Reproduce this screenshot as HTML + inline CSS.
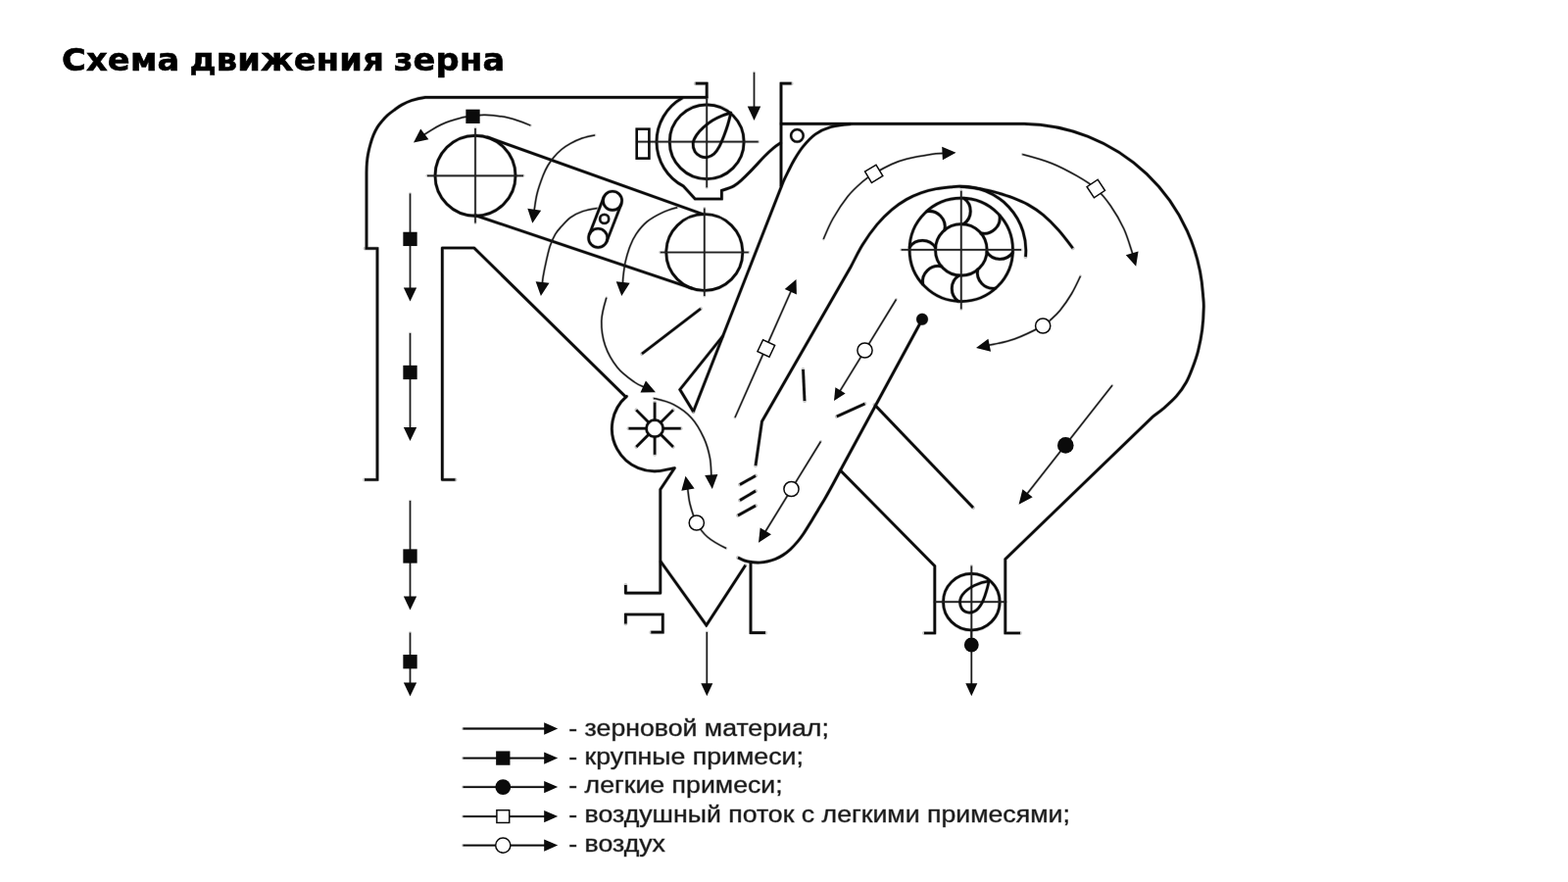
<!DOCTYPE html>
<html lang="ru">
<head>
<meta charset="utf-8">
<title>Схема движения зерна</title>
<style>
html,body{margin:0;padding:0;background:#fff;}
body{width:1600px;height:900px;position:relative;overflow:hidden;font-family:"Liberation Sans",sans-serif;}
h1{position:absolute;left:62.5px;top:41.3px;margin:0;font:700 32.2px/40px "DejaVu Sans","Liberation Sans",sans-serif;letter-spacing:0.2px;word-spacing:-2px;transform:scaleX(1.046);transform-origin:0 0;-webkit-text-stroke:0.6px #000;will-change:transform;color:#000;white-space:nowrap;}
svg{position:absolute;left:0;top:0;will-change:transform;}
svg .h{fill:none;stroke:#000;stroke-opacity:.22;stroke-linecap:round;stroke-linejoin:round;}
svg .d{fill:none;stroke:#0b0b0b;stroke-linecap:butt;stroke-linejoin:miter;}
svg text{font-family:"Liberation Sans",sans-serif;font-size:24.5px;fill:#1a1a1a;stroke:#1a1a1a;stroke-width:0.9px;stroke-opacity:.45;stroke-linejoin:round;}
</style>
</head>
<body>
<h1>Схема движения зерна</h1>
<svg width="1600" height="900" viewBox="0 0 1600 900">
<g class="h">
<path d="M721,99.3 H434 C429.28,99.95 424,101.22 420,102.5 C416,103.78 413,105.33 410,107 C407,108.67 404.5,110.67 402,112.5 C399.5,114.33 397.08,116.08 395,118 C392.92,119.92 391.17,122 389.5,124 C387.83,126 386.42,127.67 385,130 C383.58,132.33 382.17,135.17 381,138 C379.83,140.83 378.9,143.83 378,147 C377.1,150.17 376.2,153.83 375.6,157 C375,160.17 374.67,162.83 374.4,166 C374.13,169.17 374.07,172.67 374,176 V253.5 M372.5,253.5 H385 V489.5 H372" stroke-width="3.9"/>
<path d="M464.5,489.5 H451.3 V253 H483.8 L638.8,405.3 L639.4,404.39 A43.6,43.6 0 0 0 680.02,479.21 L688.4,477.6 L673.8,499.5 V605.2 H638.4 V597" stroke-width="3.9"/>
<path d="M638.4,636.5 V627 H676.3 V645.2 H664.3" stroke-width="3.9"/>
<path d="M674.2,573 L720.8,638 L760.7,576.8" stroke-width="3.9"/>
<path d="M766,573.7 V645.7 H781" stroke-width="3.9"/>
<path d="M709.7,85.2 H721.2 V100" stroke-width="3.9"/>
<path d="M807.6,85.2 H797 V190" stroke-width="3.9"/>
<path d="M797,126.3 H1045 A186,186 0 0 1 1227.5,300 C1227.7,304.44 1228.43,307.18 1228.3,313.3 C1228.17,319.42 1227.67,329.2 1226.7,336.7 C1225.73,344.2 1224.12,351.92 1222.5,358.3 C1220.88,364.68 1219,369.72 1217,375 C1215,380.28 1213.25,385.13 1210.5,390 C1207.75,394.87 1204.42,399.7 1200.5,404.2 C1196.58,408.7 1191.08,413.45 1187,417 C1182.92,420.55 1179.5,422.47 1176,425.5 L1025.8,570.5 V646 H1041" stroke-width="3.9"/>
<path d="M868,126.6 C861.3,127.08 854,127.77 848,129.5 C842,131.23 836.75,133.67 832,137 C827.25,140.33 823.08,145.17 819.5,149.5 C815.92,153.83 813.08,158.67 810.5,163 C807.92,167.33 805.92,171.67 804,175.5 C802.08,179.33 800.55,182.45 799,186 L707.5,420" stroke-width="3.9"/>
<path d="M737.5,343 L693.8,397.5 L707.5,420" stroke-width="3.9"/>
<line x1="655" y1="361" x2="715" y2="315" stroke-width="3.9"/>
<path d="M771,475 L777.5,430 L868,272.5 C872.05,265.03 875.5,257.25 880,250 C884.5,242.75 890,235 895,229 C900,223 905,218.25 910,214 C915,209.75 920,206.37 925,203.5 C930,200.63 935,198.6 940,196.8 C945,195 950,193.7 955,192.7 C960,191.7 965.5,191.2 970,190.8 C974.5,190.4 976.63,189.93 982,190.3 C987.37,190.67 996.23,191.92 1002.2,193 C1008.17,194.08 1012.62,195.33 1017.8,196.8 C1022.98,198.27 1028.12,199.8 1033.3,201.8 C1038.48,203.8 1043.72,205.88 1048.9,208.8 C1054.08,211.72 1059.22,214.98 1064.4,219.3 C1069.58,223.62 1074.95,229.03 1080,234.7 C1085.05,240.37 1089.94,246.99 1094.7,253.3" stroke-width="3.9"/>
<path d="M980,190.5 A65,65 0 0 1 1046.5,262" stroke-width="3.9"/>
<path d="M941,326 L857.5,480 C854.99,484.66 852.5,489.42 850,494 C847.5,498.58 845,503.17 842.5,507.5 C840,511.83 837.5,515.83 835,520 C832.5,524.17 830,528.42 827.5,532.5 C825,536.58 822.25,541.17 820,544.5 C817.75,547.83 816.23,549.85 814,552.5 C811.77,555.15 809.13,558.07 806.6,560.4 C804.07,562.73 801.38,564.82 798.8,566.5 C796.22,568.18 793.68,569.43 791.1,570.5 C788.52,571.57 785.9,572.32 783.3,572.9 C780.7,573.48 778.1,573.87 775.5,574 C772.9,574.13 770.28,574.02 767.7,573.7 C765.12,573.38 762.45,572.88 760,572.1 C757.55,571.32 755.31,570.09 753,569" stroke-width="3.9"/>
<circle cx="941" cy="325.8" r="4.6" stroke-width="3.9"/>
<line x1="892.5" y1="413" x2="993" y2="518" stroke-width="3.9"/>
<path d="M857.5,480 L953.8,577.5 V646 H943" stroke-width="3.9"/>
<line x1="755" y1="494.5" x2="771" y2="485.5" stroke-width="3.9"/>
<line x1="755" y1="510.5" x2="771" y2="501" stroke-width="3.9"/>
<line x1="753" y1="526" x2="771" y2="516" stroke-width="3.9"/>
<line x1="819.5" y1="377" x2="821" y2="409" stroke-width="3.9"/>
<line x1="853.8" y1="425" x2="882.5" y2="412" stroke-width="3.9"/>
<circle cx="485" cy="179.3" r="41" stroke-width="3.9"/>
<circle cx="718.8" cy="257.5" r="39" stroke-width="3.9"/>
<line x1="497" y1="139.8" x2="717" y2="218.5" stroke-width="3.9"/>
<line x1="484" y1="219.4" x2="706.3" y2="294.3" stroke-width="3.9"/>
<line x1="436" y1="179.3" x2="534" y2="179.3" stroke-width="2.9"/>
<line x1="485" y1="131" x2="485" y2="227.5" stroke-width="2.9"/>
<line x1="673.8" y1="257.5" x2="763.8" y2="257.5" stroke-width="2.9"/>
<line x1="718.8" y1="212.5" x2="718.8" y2="302" stroke-width="2.9"/>
<circle cx="625" cy="204.8" r="9.6" stroke-width="3.8"/>
<circle cx="610.2" cy="242.9" r="9.6" stroke-width="3.8"/>
<circle cx="616.7" cy="223.4" r="4.5" stroke-width="3.6"/>
<line x1="616.05" y1="201.32" x2="601.25" y2="239.42" stroke-width="3.8"/>
<line x1="633.95" y1="208.28" x2="619.15" y2="246.38" stroke-width="3.8"/>
<circle cx="721.2" cy="144.7" r="37.9" stroke-width="3.9"/>
<path d="M696.38,99.92 A51.2,51.2 0 0 0 697.48,190.07 L709.2,203 H736.4 V194.4 C740.64,193.08 745.27,191.72 748.9,189.7 C752.53,187.68 754.83,185.37 758.2,182.3 C761.57,179.23 765.47,175.08 769.1,171.3 C772.73,167.52 776.63,162.98 780,159.6 C783.37,156.22 786.55,153.3 789.3,151 C792.05,148.7 794.03,147.43 796.5,145.8" stroke-width="3.9"/>
<line x1="650" y1="144.7" x2="773.7" y2="144.7" stroke-width="2.9"/>
<line x1="721.2" y1="100.3" x2="721.2" y2="191.3" stroke-width="2.9"/>
<path d="M745.8,115.1 C742.65,116.09 739.52,116.9 736.4,118.2 C733.28,119.5 730.2,120.95 727.1,122.9 C724,124.85 720.52,127.43 717.8,129.9 C715.08,132.37 712.57,134.98 710.8,137.7 C709.03,140.42 707.47,143.35 707.2,146.2 C706.93,149.05 707.95,152.6 709.2,154.8 C710.45,157 712.63,158.45 714.7,159.4 C716.77,160.35 719.28,160.88 721.6,160.5 C723.92,160.12 726.52,158.97 728.6,157.1 C730.68,155.23 732.4,152.42 734.1,149.3 C735.8,146.18 737.38,142.03 738.8,138.4 C740.22,134.77 741.43,131.38 742.6,127.5 C743.77,123.62 744.85,119.26 745.8,115.1 Z" stroke-width="3.9"/>
<circle cx="813.4" cy="138.4" r="6.3" stroke-width="3.5"/>
<circle cx="980.8" cy="254.9" r="52.7" stroke-width="3.9"/>
<circle cx="980.8" cy="254.9" r="26.3" stroke-width="3.9"/>
<line x1="919.7" y1="254.9" x2="1042" y2="254.9" stroke-width="2.9"/>
<line x1="980.8" y1="194.8" x2="980.8" y2="315.4" stroke-width="2.9"/>
<path d="M983.56,202.27 A16,16 0 0 1 983.09,228.7" stroke-width="4"/>
<path d="M1019.96,219.64 A16,16 0 0 1 1000.95,237.99" stroke-width="4"/>
<path d="M1033.43,257.66 A16,16 0 0 1 1007,257.19" stroke-width="4"/>
<path d="M1016.06,294.06 A16,16 0 0 1 997.71,275.05" stroke-width="4"/>
<path d="M978.04,307.53 A16,16 0 0 1 978.51,281.1" stroke-width="4"/>
<path d="M941.64,290.16 A16,16 0 0 1 960.65,271.81" stroke-width="4"/>
<path d="M928.17,252.14 A16,16 0 0 1 954.6,252.61" stroke-width="4"/>
<path d="M945.54,215.74 A16,16 0 0 1 963.89,234.75" stroke-width="4"/>
<circle cx="668.1" cy="437.2" r="8.6" stroke-width="3.7"/>
<line x1="676.7" y1="437.2" x2="694.7" y2="437.2" stroke-width="3.8"/>
<line x1="674.18" y1="443.28" x2="686.91" y2="456.01" stroke-width="3.8"/>
<line x1="668.1" y1="445.8" x2="668.1" y2="463.8" stroke-width="3.8"/>
<line x1="662.02" y1="443.28" x2="649.29" y2="456.01" stroke-width="3.8"/>
<line x1="659.5" y1="437.2" x2="641.5" y2="437.2" stroke-width="3.8"/>
<line x1="662.02" y1="431.12" x2="649.29" y2="418.39" stroke-width="3.8"/>
<line x1="668.1" y1="428.6" x2="668.1" y2="410.6" stroke-width="3.8"/>
<line x1="674.18" y1="431.12" x2="686.91" y2="418.39" stroke-width="3.8"/>
<circle cx="991.3" cy="614.2" r="28.8" stroke-width="3.9"/>
<line x1="953.8" y1="614.2" x2="1026.3" y2="614.2" stroke-width="2.9"/>
<line x1="991.3" y1="577.5" x2="991.3" y2="650" stroke-width="2.9"/>
<path d="M1009,593 C1000,594 988,599 982,607 C977,614 980,624 988,625 C997,626 1002,617 1005,608 C1007,602 1008.5,597 1009,593 Z" stroke-width="3.8"/>
<path d="M769.5,73.9 C769.5,86.37 769.5,98.83 769.5,111.3" stroke-width="2.7"/>
<path d="M541.3,128 C534.34,125.16 527.72,122.28 520,120.5 C512.28,118.72 502.5,117.5 495,117.3 C487.5,117.1 480.83,118.3 475,119.3 C469.17,120.3 464.17,121.97 460,123.3 C455.83,124.63 453.33,125.72 450,127.3 C446.67,128.88 443.16,130.91 440,132.8 C436.84,134.69 433.95,136.58 431.04,138.63" stroke-width="2.7"/>
<path d="M418.5,197.5 C418.5,230.43 418.5,263.37 418.5,296.3" stroke-width="2.7"/>
<path d="M418.5,340 C418.5,372.93 418.5,405.87 418.5,438.8" stroke-width="2.7"/>
<path d="M418.5,511 C418.5,544.4 418.5,577.8 418.5,611.2" stroke-width="2.7"/>
<path d="M418.5,645.6 C418.5,663.47 418.5,681.33 418.5,699.2" stroke-width="2.7"/>
<path d="M607,137.9 C602.63,138.72 598.13,139.58 594,141 C589.87,142.42 585.7,144.48 582.2,146.4 C578.7,148.32 575.85,150.17 573,152.5 C570.15,154.83 567.43,157.65 565.1,160.4 C562.77,163.15 560.82,165.88 559,169 C557.18,172.12 556.03,174.3 554.2,179.1 C552.37,183.9 549.56,191.55 548,197.8 C546.44,204.05 545.82,210.33 544.85,216.61" stroke-width="2.7"/>
<path d="M609.4,212.4 C604.42,213.15 599.13,214.03 594.6,215.6 C590.07,217.17 585.82,219.22 582.2,221.8 C578.58,224.38 575.48,228.25 572.9,231.1 C570.32,233.95 568.65,235.53 566.7,238.9 C564.75,242.27 562.77,246.63 561.2,251.3 C559.63,255.97 558.47,261.72 557.3,266.9 C556.13,272.08 554.88,278.42 554.2,282.4 C553.52,286.38 553.56,287.99 553.23,290.78" stroke-width="2.7"/>
<path d="M691.1,211.7 C685.83,213.24 680.68,214.65 675.5,217.1 C670.32,219.55 664.4,222.77 660,226.4 C655.6,230.03 651.95,234.75 649.1,238.9 C646.25,243.05 644.72,246.63 642.9,251.3 C641.08,255.97 639.37,261.72 638.2,266.9 C637.03,272.08 636.36,278.42 635.9,282.4 C635.44,286.38 635.63,287.97 635.41,290.76" stroke-width="2.7"/>
<path d="M618.8,303.8 C616.5,311.51 614.02,319.38 613.8,327.5 C613.58,335.62 614.8,344.58 617.5,352.5 C620.2,360.42 625,368.75 630,375 C635,381.25 642.7,386.57 647.5,390 C652.3,393.43 654.99,393.81 658.79,395.6" stroke-width="2.7"/>
<path d="M666.9,406.4 C673.75,407.97 680.62,409.32 687.1,412.7 C693.58,416.08 700.62,421 705.8,426.7 C710.98,432.4 715.1,440.17 718.2,446.9 C721.3,453.63 723.1,460.35 724.4,467.1 C725.7,473.85 725.49,480.65 725.99,487.43" stroke-width="2.7"/>
<path d="M741,559.5 C734.36,556.29 727.03,552.33 722,548 C716.97,543.67 713.8,539.17 710.8,533.5 C707.8,527.83 705.55,520.11 704,514 C702.45,507.89 702.42,502.53 701.48,496.82" stroke-width="2.7"/>
<path d="M750,426 C769.32,382.41 788.64,338.83 807.96,295.24" stroke-width="2.7"/>
<path d="M914.5,305.5 C895.08,337.16 875.65,368.82 856.23,400.48" stroke-width="2.7"/>
<path d="M837.5,450.5 C818.29,481.75 799.08,513.01 779.87,544.26" stroke-width="2.7"/>
<path d="M840.3,244 C843.28,236.89 845.88,230.25 850,223 C854.12,215.75 860,206.75 865,200.5 C870,194.25 875.55,189.37 880,185.5 C884.45,181.63 886.7,180.3 891.7,177.3 C896.7,174.3 904.45,170 910,167.5 C915.55,165 918.33,163.97 925,162.3 C931.67,160.63 943.45,158.49 950,157.5 C956.55,156.51 959.54,156.67 964.31,156.36" stroke-width="2.7"/>
<path d="M1043.3,157.5 C1053.41,160.13 1064.13,163.08 1073.3,166.7 C1082.47,170.32 1090.8,174.9 1098.3,179.2 C1105.8,183.5 1112.47,187.37 1118.3,192.5 C1124.13,197.63 1128.57,203.2 1133.3,210 C1138.03,216.8 1143.08,225.52 1146.7,233.3 C1150.32,241.08 1153.45,252.09 1155,256.7 C1156.55,261.31 1155.61,259.56 1155.98,260.97" stroke-width="2.7"/>
<path d="M1102.5,281.7 C1099.65,287.9 1096.77,294.17 1093.3,300 C1089.83,305.83 1085.3,312.25 1081.7,316.7 C1078.1,321.15 1074.62,324.07 1071.7,326.7 C1068.78,329.33 1070.32,329.28 1064.2,332.5 C1058.08,335.72 1044.54,342.62 1035,346 C1025.46,349.38 1016.36,350.73 1006.98,352.8" stroke-width="2.7"/>
<path d="M1135,393.2 C1105.59,430.66 1076.18,468.12 1046.76,505.58" stroke-width="2.7"/>
<path d="M721.3,645 C721.3,663.3 721.3,681.6 721.3,699.9" stroke-width="2.7"/>
<path d="M991.3,643 C991.3,661.97 991.3,680.93 991.3,699.9" stroke-width="2.7"/>
<path d="M472.5,743.5 C501,743.5 529.5,743.5 558,743.5" stroke-width="3"/>
<path d="M472.5,773.6 C501,773.6 529.5,773.6 558,773.6" stroke-width="3"/>
<path d="M472.5,803.1 C501,803.1 529.5,803.1 558,803.1" stroke-width="3"/>
<path d="M472.5,833.1 C501,833.1 529.5,833.1 558,833.1" stroke-width="3"/>
<path d="M472.5,862.6 C501,862.6 529.5,862.6 558,862.6" stroke-width="3"/>
</g>
<g class="d">
<path d="M721,99.3 H434 C429.28,99.95 424,101.22 420,102.5 C416,103.78 413,105.33 410,107 C407,108.67 404.5,110.67 402,112.5 C399.5,114.33 397.08,116.08 395,118 C392.92,119.92 391.17,122 389.5,124 C387.83,126 386.42,127.67 385,130 C383.58,132.33 382.17,135.17 381,138 C379.83,140.83 378.9,143.83 378,147 C377.1,150.17 376.2,153.83 375.6,157 C375,160.17 374.67,162.83 374.4,166 C374.13,169.17 374.07,172.67 374,176 V253.5 M372.5,253.5 H385 V489.5 H372" stroke-width="2.7"/>
<path d="M464.5,489.5 H451.3 V253 H483.8 L638.8,405.3 L639.4,404.39 A43.6,43.6 0 0 0 680.02,479.21 L688.4,477.6 L673.8,499.5 V605.2 H638.4 V597" stroke-width="2.7" stroke-linejoin="round"/>
<path d="M638.4,636.5 V627 H676.3 V645.2 H664.3" stroke-width="2.7"/>
<path d="M674.2,573 L720.8,638 L760.7,576.8" stroke-width="2.7"/>
<path d="M766,573.7 V645.7 H781" stroke-width="2.7"/>
<path d="M709.7,85.2 H721.2 V100" stroke-width="2.7"/>
<path d="M807.6,85.2 H797 V190" stroke-width="2.7"/>
<path d="M797,126.3 H1045 A186,186 0 0 1 1227.5,300 C1227.7,304.44 1228.43,307.18 1228.3,313.3 C1228.17,319.42 1227.67,329.2 1226.7,336.7 C1225.73,344.2 1224.12,351.92 1222.5,358.3 C1220.88,364.68 1219,369.72 1217,375 C1215,380.28 1213.25,385.13 1210.5,390 C1207.75,394.87 1204.42,399.7 1200.5,404.2 C1196.58,408.7 1191.08,413.45 1187,417 C1182.92,420.55 1179.5,422.47 1176,425.5 L1025.8,570.5 V646 H1041" stroke-width="2.7"/>
<path d="M868,126.6 C861.3,127.08 854,127.77 848,129.5 C842,131.23 836.75,133.67 832,137 C827.25,140.33 823.08,145.17 819.5,149.5 C815.92,153.83 813.08,158.67 810.5,163 C807.92,167.33 805.92,171.67 804,175.5 C802.08,179.33 800.55,182.45 799,186 L707.5,420" stroke-width="2.7"/>
<path d="M737.5,343 L693.8,397.5 L707.5,420" stroke-width="2.7"/>
<line x1="655" y1="361" x2="715" y2="315" stroke-width="2.7"/>
<path d="M771,475 L777.5,430 L868,272.5 C872.05,265.03 875.5,257.25 880,250 C884.5,242.75 890,235 895,229 C900,223 905,218.25 910,214 C915,209.75 920,206.37 925,203.5 C930,200.63 935,198.6 940,196.8 C945,195 950,193.7 955,192.7 C960,191.7 965.5,191.2 970,190.8 C974.5,190.4 976.63,189.93 982,190.3 C987.37,190.67 996.23,191.92 1002.2,193 C1008.17,194.08 1012.62,195.33 1017.8,196.8 C1022.98,198.27 1028.12,199.8 1033.3,201.8 C1038.48,203.8 1043.72,205.88 1048.9,208.8 C1054.08,211.72 1059.22,214.98 1064.4,219.3 C1069.58,223.62 1074.95,229.03 1080,234.7 C1085.05,240.37 1089.94,246.99 1094.7,253.3" stroke-width="2.7"/>
<path d="M980,190.5 A65,65 0 0 1 1046.5,262" stroke-width="2.7"/>
<path d="M941,326 L857.5,480 C854.99,484.66 852.5,489.42 850,494 C847.5,498.58 845,503.17 842.5,507.5 C840,511.83 837.5,515.83 835,520 C832.5,524.17 830,528.42 827.5,532.5 C825,536.58 822.25,541.17 820,544.5 C817.75,547.83 816.23,549.85 814,552.5 C811.77,555.15 809.13,558.07 806.6,560.4 C804.07,562.73 801.38,564.82 798.8,566.5 C796.22,568.18 793.68,569.43 791.1,570.5 C788.52,571.57 785.9,572.32 783.3,572.9 C780.7,573.48 778.1,573.87 775.5,574 C772.9,574.13 770.28,574.02 767.7,573.7 C765.12,573.38 762.45,572.88 760,572.1 C757.55,571.32 755.31,570.09 753,569" stroke-width="2.7"/>
<circle cx="941" cy="325.8" r="4.6" stroke-width="2.7" fill="#0b0b0b"/>
<line x1="892.5" y1="413" x2="993" y2="518" stroke-width="2.7"/>
<path d="M857.5,480 L953.8,577.5 V646 H943" stroke-width="2.7"/>
<line x1="755" y1="494.5" x2="771" y2="485.5" stroke-width="2.7"/>
<line x1="755" y1="510.5" x2="771" y2="501" stroke-width="2.7"/>
<line x1="753" y1="526" x2="771" y2="516" stroke-width="2.7"/>
<line x1="819.5" y1="377" x2="821" y2="409" stroke-width="2.7"/>
<line x1="853.8" y1="425" x2="882.5" y2="412" stroke-width="2.7"/>
<circle cx="485" cy="179.3" r="41" stroke-width="2.7" fill="none"/>
<circle cx="718.8" cy="257.5" r="39" stroke-width="2.7" fill="none"/>
<line x1="497" y1="139.8" x2="717" y2="218.5" stroke-width="2.7"/>
<line x1="484" y1="219.4" x2="706.3" y2="294.3" stroke-width="2.7"/>
<line x1="436" y1="179.3" x2="534" y2="179.3" stroke-width="1.7" stroke="#222"/>
<line x1="485" y1="131" x2="485" y2="227.5" stroke-width="1.7" stroke="#222"/>
<line x1="673.8" y1="257.5" x2="763.8" y2="257.5" stroke-width="1.7" stroke="#222"/>
<line x1="718.8" y1="212.5" x2="718.8" y2="302" stroke-width="1.7" stroke="#222"/>
<circle cx="625" cy="204.8" r="9.6" stroke-width="2.6" fill="none"/>
<circle cx="610.2" cy="242.9" r="9.6" stroke-width="2.6" fill="none"/>
<circle cx="616.7" cy="223.4" r="4.5" stroke-width="2.4" fill="none"/>
<line x1="616.05" y1="201.32" x2="601.25" y2="239.42" stroke-width="2.6"/>
<line x1="633.95" y1="208.28" x2="619.15" y2="246.38" stroke-width="2.6"/>
<circle cx="721.2" cy="144.7" r="37.9" stroke-width="2.7" fill="none"/>
<path d="M696.38,99.92 A51.2,51.2 0 0 0 697.48,190.07 L709.2,203 H736.4 V194.4 C740.64,193.08 745.27,191.72 748.9,189.7 C752.53,187.68 754.83,185.37 758.2,182.3 C761.57,179.23 765.47,175.08 769.1,171.3 C772.73,167.52 776.63,162.98 780,159.6 C783.37,156.22 786.55,153.3 789.3,151 C792.05,148.7 794.03,147.43 796.5,145.8" stroke-width="2.7"/>
<line x1="650" y1="144.7" x2="773.7" y2="144.7" stroke-width="1.7" stroke="#222"/>
<line x1="721.2" y1="100.3" x2="721.2" y2="191.3" stroke-width="1.7" stroke="#222"/>
<path d="M745.8,115.1 C742.65,116.09 739.52,116.9 736.4,118.2 C733.28,119.5 730.2,120.95 727.1,122.9 C724,124.85 720.52,127.43 717.8,129.9 C715.08,132.37 712.57,134.98 710.8,137.7 C709.03,140.42 707.47,143.35 707.2,146.2 C706.93,149.05 707.95,152.6 709.2,154.8 C710.45,157 712.63,158.45 714.7,159.4 C716.77,160.35 719.28,160.88 721.6,160.5 C723.92,160.12 726.52,158.97 728.6,157.1 C730.68,155.23 732.4,152.42 734.1,149.3 C735.8,146.18 737.38,142.03 738.8,138.4 C740.22,134.77 741.43,131.38 742.6,127.5 C743.77,123.62 744.85,119.26 745.8,115.1 Z" stroke-width="2.7" stroke-linejoin="round"/>
<rect x="649.7" y="131.7" width="12.7" height="29.9" fill="none" stroke-width="2.6"/>
<circle cx="813.4" cy="138.4" r="6.3" stroke-width="2.3" fill="none"/>
<circle cx="980.8" cy="254.9" r="52.7" stroke-width="2.7" fill="none"/>
<circle cx="980.8" cy="254.9" r="26.3" stroke-width="2.7" fill="none"/>
<line x1="919.7" y1="254.9" x2="1042" y2="254.9" stroke-width="1.7" stroke="#222"/>
<line x1="980.8" y1="194.8" x2="980.8" y2="315.4" stroke-width="1.7" stroke="#222"/>
<path d="M983.56,202.27 A16,16 0 0 1 983.09,228.7" stroke-width="2.8"/>
<path d="M1019.96,219.64 A16,16 0 0 1 1000.95,237.99" stroke-width="2.8"/>
<path d="M1033.43,257.66 A16,16 0 0 1 1007,257.19" stroke-width="2.8"/>
<path d="M1016.06,294.06 A16,16 0 0 1 997.71,275.05" stroke-width="2.8"/>
<path d="M978.04,307.53 A16,16 0 0 1 978.51,281.1" stroke-width="2.8"/>
<path d="M941.64,290.16 A16,16 0 0 1 960.65,271.81" stroke-width="2.8"/>
<path d="M928.17,252.14 A16,16 0 0 1 954.6,252.61" stroke-width="2.8"/>
<path d="M945.54,215.74 A16,16 0 0 1 963.89,234.75" stroke-width="2.8"/>
<circle cx="668.1" cy="437.2" r="8.6" stroke-width="2.5" fill="none"/>
<line x1="676.7" y1="437.2" x2="694.7" y2="437.2" stroke-width="2.6"/>
<line x1="674.18" y1="443.28" x2="686.91" y2="456.01" stroke-width="2.6"/>
<line x1="668.1" y1="445.8" x2="668.1" y2="463.8" stroke-width="2.6"/>
<line x1="662.02" y1="443.28" x2="649.29" y2="456.01" stroke-width="2.6"/>
<line x1="659.5" y1="437.2" x2="641.5" y2="437.2" stroke-width="2.6"/>
<line x1="662.02" y1="431.12" x2="649.29" y2="418.39" stroke-width="2.6"/>
<line x1="668.1" y1="428.6" x2="668.1" y2="410.6" stroke-width="2.6"/>
<line x1="674.18" y1="431.12" x2="686.91" y2="418.39" stroke-width="2.6"/>
<circle cx="991.3" cy="614.2" r="28.8" stroke-width="2.7" fill="none"/>
<line x1="953.8" y1="614.2" x2="1026.3" y2="614.2" stroke-width="1.7" stroke="#222"/>
<line x1="991.3" y1="577.5" x2="991.3" y2="650" stroke-width="1.7" stroke="#222"/>
<path d="M1009,593 C1000,594 988,599 982,607 C977,614 980,624 988,625 C997,626 1002,617 1005,608 C1007,602 1008.5,597 1009,593 Z" stroke-width="2.6"/>
<path d="M769.5,73.9 C769.5,86.37 769.5,98.83 769.5,111.3" stroke-width="1.5" stroke="#1c1c1c"/>
<polygon points="769.5,122.9 762.75,108.4 776.25,108.4" fill="#0b0b0b" stroke="none"/>
<path d="M541.3,128 C534.34,125.16 527.72,122.28 520,120.5 C512.28,118.72 502.5,117.5 495,117.3 C487.5,117.1 480.83,118.3 475,119.3 C469.17,120.3 464.17,121.97 460,123.3 C455.83,124.63 453.33,125.72 450,127.3 C446.67,128.88 443.16,130.91 440,132.8 C436.84,134.69 433.95,136.58 431.04,138.63" stroke-width="1.5" stroke="#1c1c1c"/>
<polygon points="422,145.5 429.22,131.53 437.39,142.28" fill="#0b0b0b" stroke="none"/>
<rect x="475.35" y="111.65" width="14.3" height="14.3" fill="#0b0b0b" stroke="none" transform="rotate(0 482.5 118.8)"/>
<path d="M418.5,197.5 C418.5,230.43 418.5,263.37 418.5,296.3" stroke-width="1.5" stroke="#1c1c1c"/>
<polygon points="418.5,307.5 411.85,293.5 425.15,293.5" fill="#0b0b0b" stroke="none"/>
<rect x="411.35" y="236.75" width="14.3" height="14.3" fill="#0b0b0b" stroke="none" transform="rotate(0 418.5 243.9)"/>
<path d="M418.5,340 C418.5,372.93 418.5,405.87 418.5,438.8" stroke-width="1.5" stroke="#1c1c1c"/>
<polygon points="418.5,450 411.85,436 425.15,436" fill="#0b0b0b" stroke="none"/>
<rect x="411.35" y="372.85" width="14.3" height="14.3" fill="#0b0b0b" stroke="none" transform="rotate(0 418.5 380)"/>
<path d="M418.5,511 C418.5,544.4 418.5,577.8 418.5,611.2" stroke-width="1.5" stroke="#1c1c1c"/>
<polygon points="418.5,622.4 411.85,608.4 425.15,608.4" fill="#0b0b0b" stroke="none"/>
<rect x="411.35" y="560.35" width="14.3" height="14.3" fill="#0b0b0b" stroke="none" transform="rotate(0 418.5 567.5)"/>
<path d="M418.5,645.6 C418.5,663.47 418.5,681.33 418.5,699.2" stroke-width="1.5" stroke="#1c1c1c"/>
<polygon points="418.5,710.4 411.85,696.4 425.15,696.4" fill="#0b0b0b" stroke="none"/>
<rect x="411.35" y="668.05" width="14.3" height="14.3" fill="#0b0b0b" stroke="none" transform="rotate(0 418.5 675.2)"/>
<path d="M607,137.9 C602.63,138.72 598.13,139.58 594,141 C589.87,142.42 585.7,144.48 582.2,146.4 C578.7,148.32 575.85,150.17 573,152.5 C570.15,154.83 567.43,157.65 565.1,160.4 C562.77,163.15 560.82,165.88 559,169 C557.18,172.12 556.03,174.3 554.2,179.1 C552.37,183.9 549.56,191.55 548,197.8 C546.44,204.05 545.82,210.33 544.85,216.61" stroke-width="1.5" stroke="#1c1c1c"/>
<polygon points="543.3,227.7 538.31,212.86 552.17,214.81" fill="#0b0b0b" stroke="none"/>
<path d="M609.4,212.4 C604.42,213.15 599.13,214.03 594.6,215.6 C590.07,217.17 585.82,219.22 582.2,221.8 C578.58,224.38 575.48,228.25 572.9,231.1 C570.32,233.95 568.65,235.53 566.7,238.9 C564.75,242.27 562.77,246.63 561.2,251.3 C559.63,255.97 558.47,261.72 557.3,266.9 C556.13,272.08 554.88,278.42 554.2,282.4 C553.52,286.38 553.56,287.99 553.23,290.78" stroke-width="1.5" stroke="#1c1c1c"/>
<polygon points="551.9,301.9 546.62,287.17 560.52,288.83" fill="#0b0b0b" stroke="none"/>
<path d="M691.1,211.7 C685.83,213.24 680.68,214.65 675.5,217.1 C670.32,219.55 664.4,222.77 660,226.4 C655.6,230.03 651.95,234.75 649.1,238.9 C646.25,243.05 644.72,246.63 642.9,251.3 C641.08,255.97 639.37,261.72 638.2,266.9 C637.03,272.08 636.36,278.42 635.9,282.4 C635.44,286.38 635.63,287.97 635.41,290.76" stroke-width="1.5" stroke="#1c1c1c"/>
<polygon points="634.3,301.9 628.73,287.27 642.66,288.67" fill="#0b0b0b" stroke="none"/>
<path d="M618.8,303.8 C616.5,311.51 614.02,319.38 613.8,327.5 C613.58,335.62 614.8,344.58 617.5,352.5 C620.2,360.42 625,368.75 630,375 C635,381.25 642.7,386.57 647.5,390 C652.3,393.43 654.99,393.81 658.79,395.6" stroke-width="1.5" stroke="#1c1c1c"/>
<polygon points="669,400.2 653.5,400.52 658.96,388.39" fill="#0b0b0b" stroke="none"/>
<path d="M666.9,406.4 C673.75,407.97 680.62,409.32 687.1,412.7 C693.58,416.08 700.62,421 705.8,426.7 C710.98,432.4 715.1,440.17 718.2,446.9 C721.3,453.63 723.1,460.35 724.4,467.1 C725.7,473.85 725.49,480.65 725.99,487.43" stroke-width="1.5" stroke="#1c1c1c"/>
<polygon points="726.8,499 719.2,485 732.37,484.07" fill="#0b0b0b" stroke="none"/>
<path d="M741,559.5 C734.36,556.29 727.03,552.33 722,548 C716.97,543.67 713.8,539.17 710.8,533.5 C707.8,527.83 705.55,520.11 704,514 C702.45,507.89 702.42,502.53 701.48,496.82" stroke-width="1.5" stroke="#1c1c1c"/>
<polygon points="699.5,485.8 708.62,498.38 695.34,500.77" fill="#0b0b0b" stroke="none"/>
<circle cx="710.8" cy="533.5" r="7.6" fill="#fff" stroke-width="1.5"/>
<path d="M750,426 C769.32,382.41 788.64,338.83 807.96,295.24" stroke-width="1.5" stroke="#1c1c1c"/>
<polygon points="812.5,285 812.91,300.49 800.75,295.1" fill="#0b0b0b" stroke="none"/>
<rect x="775.15" y="348.85" width="13.3" height="13.3" fill="#fff" stroke-width="1.5" transform="rotate(25 781.8 355.5)"/>
<path d="M914.5,305.5 C895.08,337.16 875.65,368.82 856.23,400.48" stroke-width="1.5" stroke="#1c1c1c"/>
<polygon points="851,409 852.42,395.21 862.65,401.48" fill="#0b0b0b" stroke="none"/>
<circle cx="882.5" cy="357.5" r="7.6" fill="#fff" stroke-width="1.5"/>
<path d="M837.5,450.5 C818.29,481.75 799.08,513.01 779.87,544.26" stroke-width="1.5" stroke="#1c1c1c"/>
<polygon points="774,553.8 775.67,538.39 787,545.36" fill="#0b0b0b" stroke="none"/>
<circle cx="807.5" cy="499" r="7.6" fill="#fff" stroke-width="1.5"/>
<path d="M840.3,244 C843.28,236.89 845.88,230.25 850,223 C854.12,215.75 860,206.75 865,200.5 C870,194.25 875.55,189.37 880,185.5 C884.45,181.63 886.7,180.3 891.7,177.3 C896.7,174.3 904.45,170 910,167.5 C915.55,165 918.33,163.97 925,162.3 C931.67,160.63 943.45,158.49 950,157.5 C956.55,156.51 959.54,156.67 964.31,156.36" stroke-width="1.5" stroke="#1c1c1c"/>
<polygon points="975.5,155.8 961.85,163.14 961.19,149.86" fill="#0b0b0b" stroke="none"/>
<rect x="885.05" y="170.65" width="13.3" height="13.3" fill="#fff" stroke-width="1.5" transform="rotate(-31 891.7 177.3)"/>
<path d="M1043.3,157.5 C1053.41,160.13 1064.13,163.08 1073.3,166.7 C1082.47,170.32 1090.8,174.9 1098.3,179.2 C1105.8,183.5 1112.47,187.37 1118.3,192.5 C1124.13,197.63 1128.57,203.2 1133.3,210 C1138.03,216.8 1143.08,225.52 1146.7,233.3 C1150.32,241.08 1153.45,252.09 1155,256.7 C1156.55,261.31 1155.61,259.56 1155.98,260.97" stroke-width="1.5" stroke="#1c1c1c"/>
<polygon points="1159.2,271.7 1148.81,260.2 1161.55,256.38" fill="#0b0b0b" stroke="none"/>
<rect x="1111.65" y="185.85" width="13.3" height="13.3" fill="#fff" stroke-width="1.5" transform="rotate(-33.5 1118.3 192.5)"/>
<path d="M1102.5,281.7 C1099.65,287.9 1096.77,294.17 1093.3,300 C1089.83,305.83 1085.3,312.25 1081.7,316.7 C1078.1,321.15 1074.62,324.07 1071.7,326.7 C1068.78,329.33 1070.32,329.28 1064.2,332.5 C1058.08,335.72 1044.54,342.62 1035,346 C1025.46,349.38 1016.36,350.73 1006.98,352.8" stroke-width="1.5" stroke="#1c1c1c"/>
<polygon points="996,355 1008.42,345.73 1011.03,358.78" fill="#0b0b0b" stroke="none"/>
<circle cx="1064.2" cy="332.5" r="7.6" fill="#fff" stroke-width="1.5"/>
<path d="M1135,393.2 C1105.59,430.66 1076.18,468.12 1046.76,505.58" stroke-width="1.5" stroke="#1c1c1c"/>
<polygon points="1039.6,514.7 1043.44,499.28 1053.67,507.31" fill="#0b0b0b" stroke="none"/>
<circle cx="1087.3" cy="454.4" r="8.3" fill="#0b0b0b" stroke="none"/>
<path d="M721.3,645 C721.3,663.3 721.3,681.6 721.3,699.9" stroke-width="1.5" stroke="#1c1c1c"/>
<polygon points="721.3,710.3 715.3,697.3 727.3,697.3" fill="#0b0b0b" stroke="none"/>
<path d="M991.3,643 C991.3,661.97 991.3,680.93 991.3,699.9" stroke-width="1.5" stroke="#1c1c1c"/>
<polygon points="991.3,710.3 985.3,697.3 997.3,697.3" fill="#0b0b0b" stroke="none"/>
<circle cx="991.3" cy="658" r="7.4" fill="#0b0b0b" stroke="none"/>
<path d="M472.5,743.5 C501,743.5 529.5,743.5 558,743.5" stroke-width="1.8"/>
<polygon points="569.2,743.5 555.2,749.65 555.2,737.35" fill="#0b0b0b" stroke="none"/>
<path d="M472.5,773.6 C501,773.6 529.5,773.6 558,773.6" stroke-width="1.8"/>
<polygon points="569.2,773.6 555.2,779.75 555.2,767.45" fill="#0b0b0b" stroke="none"/>
<rect x="506.15" y="766.45" width="14.3" height="14.3" fill="#0b0b0b" stroke="none" transform="rotate(0 513.3 773.6)"/>
<path d="M472.5,803.1 C501,803.1 529.5,803.1 558,803.1" stroke-width="1.8"/>
<polygon points="569.2,803.1 555.2,809.25 555.2,796.95" fill="#0b0b0b" stroke="none"/>
<circle cx="513.3" cy="803.1" r="7.9" fill="#0b0b0b" stroke="none"/>
<path d="M472.5,833.1 C501,833.1 529.5,833.1 558,833.1" stroke-width="1.8"/>
<polygon points="569.2,833.1 555.2,839.25 555.2,826.95" fill="#0b0b0b" stroke="none"/>
<rect x="506.9" y="826.7" width="12.8" height="12.8" fill="#fff" stroke-width="1.5" transform="rotate(0 513.3 833.1)"/>
<path d="M472.5,862.6 C501,862.6 529.5,862.6 558,862.6" stroke-width="1.8"/>
<polygon points="569.2,862.6 555.2,868.75 555.2,856.45" fill="#0b0b0b" stroke="none"/>
<circle cx="513.3" cy="862.6" r="7.6" fill="#fff" stroke-width="1.5"/>
</g>
<g>
<text transform="translate(580.3 750.5) scale(1.09 1)">- зерновой материал;</text>
<text transform="translate(580.3 779.6) scale(1.09 1)">- крупные примеси;</text>
<text transform="translate(580.3 809.2) scale(1.09 1)">- легкие примеси;</text>
<text transform="translate(580.3 838.8) scale(1.09 1)">- воздушный поток с легкими примесями;</text>
<text transform="translate(580.3 868.5) scale(1.09 1)">- воздух</text>
</g>
</svg>
</body>
</html>
